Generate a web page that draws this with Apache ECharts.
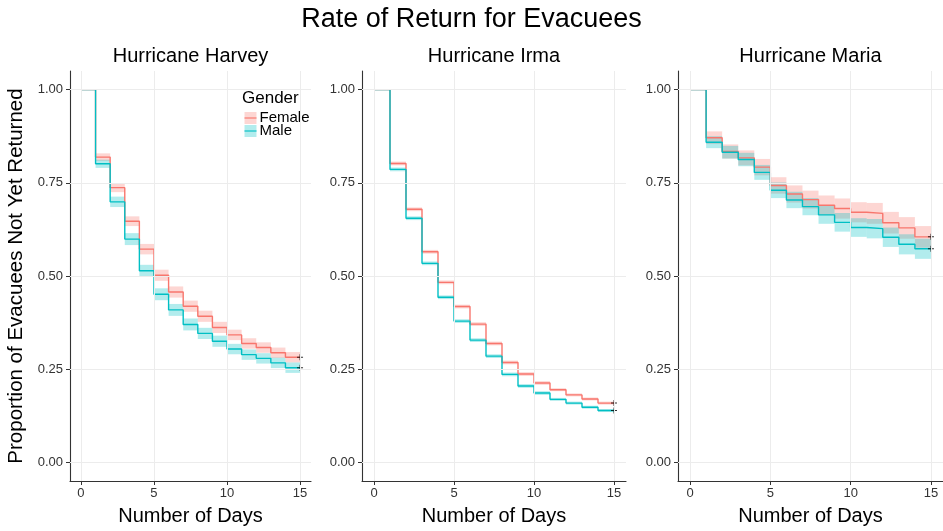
<!DOCTYPE html>
<html>
<head>
<meta charset="utf-8">
<script src="https://cdn.jsdelivr.net/npm/echarts@6/dist/echarts.min.js"></script>
<style>
  html, body { margin: 0; padding: 0; background: #fff; }
  #chart { width: 943px; height: 531px; }
</style>
</head>
<body>
<div id="chart"></div>
<script>
// step start days; each value holds until the next day, last one until endDay
const days = [0, 1, 2, 3, 4, 5, 6, 7, 8, 9, 10, 11, 12, 13, 14];
const endDay = 15;

const panelTitles = ['Hurricane Harvey', 'Hurricane Irma', 'Hurricane Maria'];
const genders = ['Female', 'Male'];
const xTicks = [0, 5, 10, 15];
const yTicks = [0, 0.25, 0.5, 0.75, 1];

const harveyFemale = [1, 0.819, 0.737, 0.647, 0.572, 0.502, 0.457, 0.419, 0.392, 0.362, 0.342, 0.319, 0.308, 0.294, 0.282];
const harveyMale = [1, 0.801, 0.699, 0.599, 0.514, 0.451, 0.409, 0.370, 0.346, 0.325, 0.304, 0.289, 0.279, 0.267, 0.254];
const harveyFemaleCI = [0, 0.010, 0.012, 0.013, 0.014, 0.015, 0.015, 0.015, 0.015, 0.015, 0.014, 0.014, 0.014, 0.014, 0.014];
const harveyMaleCI = [0, 0.011, 0.014, 0.016, 0.016, 0.016, 0.016, 0.016, 0.015, 0.015, 0.014, 0.014, 0.014, 0.014, 0.014];

const irmaFemale = [1, 0.802, 0.679, 0.565, 0.483, 0.418, 0.371, 0.319, 0.268, 0.237, 0.213, 0.195, 0.181, 0.170, 0.159];
const irmaMale = [1, 0.786, 0.655, 0.534, 0.443, 0.379, 0.328, 0.285, 0.236, 0.205, 0.186, 0.169, 0.159, 0.148, 0.139];
const irmaFemaleCI = [0, 0.005, 0.005, 0.005, 0.005, 0.005, 0.005, 0.005, 0.005, 0.005, 0.005, 0.004, 0.004, 0.004, 0.004];
const irmaMaleCI = [0, 0.005, 0.005, 0.005, 0.005, 0.005, 0.005, 0.005, 0.005, 0.005, 0.005, 0.004, 0.004, 0.004, 0.004];

const mariaFemale = [1, 0.871, 0.834, 0.817, 0.792, 0.743, 0.720, 0.705, 0.690, 0.681, 0.671, 0.668, 0.643, 0.629, 0.605];
const mariaMale = [1, 0.859, 0.832, 0.8125, 0.778, 0.730, 0.704, 0.686, 0.664, 0.644, 0.630, 0.627, 0.604, 0.585, 0.573];
const mariaFemaleCI = [0, 0.017, 0.019, 0.020, 0.022, 0.022, 0.023, 0.024, 0.026, 0.027, 0.027, 0.028, 0.029, 0.029, 0.029];
const mariaMaleCI = [0, 0.016, 0.017, 0.018, 0.020, 0.021, 0.022, 0.023, 0.024, 0.025, 0.025, 0.026, 0.026, 0.027, 0.027];

const panels = [
  { female: harveyFemale, male: harveyMale, femaleCI: harveyFemaleCI, maleCI: harveyMaleCI },
  { female: irmaFemale, male: irmaMale, femaleCI: irmaFemaleCI, maleCI: irmaMaleCI },
  { female: mariaFemale, male: mariaMale, femaleCI: mariaFemaleCI, maleCI: mariaMaleCI }
];

const lineColors = { Female: '#F8766D', Male: '#00BFC4' };
const fillColors = { Female: 'rgba(248,118,109,0.3)', Male: 'rgba(0,191,196,0.3)' };

const FONT = '"Liberation Sans", Arial, sans-serif';
const gridBoxes = [
  { left: 70, width: 241 },
  { left: 362, width: 264 },
  { left: 678, width: 265 }
];
const TOP = 71, HEIGHT = 411;

const chart = echarts.init(document.getElementById('chart'));

const grids = [], xAxes = [], yAxes = [], series = [], titles = [];

titles.push({
  text: 'Rate of Return for Evacuees',
  left: 'center', top: 1,
  textStyle: { fontFamily: FONT, fontSize: 27, fontWeight: 'normal', color: '#000' }
});

panels.forEach((p, k) => {
  const g = gridBoxes[k];
  grids.push({ left: g.left, width: g.width, top: TOP, height: HEIGHT, containLabel: false });
  titles.push({
    text: panelTitles[k],
    left: g.left + g.width / 2 - 5, top: 41, textAlign: 'center',
    textStyle: { fontFamily: FONT, fontSize: 20, fontWeight: 'normal', color: '#000' }
  });
  xAxes.push({
    gridIndex: k, type: 'value', min: -0.75, max: 15.75,
    name: 'Number of Days', nameLocation: 'middle', nameGap: 25,
    nameTextStyle: { fontFamily: FONT, fontSize: 20, color: '#000' },
    axisLine: { onZero: false, lineStyle: { color: '#333', width: 1.1 } },
    axisTick: { show: true, length: 4, customValues: xTicks, lineStyle: { color: '#333' } },
    axisLabel: { customValues: xTicks, margin: 6, fontFamily: FONT, fontSize: 13, color: '#333' },
    splitLine: { show: false }
  });
  yAxes.push({
    gridIndex: k, type: 'value', min: -0.05, max: 1.05,
    name: k === 0 ? 'Proportion of Evacuees Not Yet Returned' : '',
    nameLocation: 'middle', nameGap: 43, nameRotate: 90,
    nameTextStyle: { fontFamily: FONT, fontSize: 20.5, color: '#000' },
    axisLine: { show: true, onZero: false, lineStyle: { color: '#333', width: 1.1 } },
    axisTick: { show: true, length: 4, customValues: yTicks, lineStyle: { color: '#333' } },
    axisLabel: {
      customValues: yTicks, margin: 7, fontFamily: FONT, fontSize: 13, color: '#333',
      formatter: v => v.toFixed(2)
    },
    splitLine: { show: false }
  });

  // light grid lines at the major ticks
  series.push({
    type: 'line', xAxisIndex: k, yAxisIndex: k, data: [], silent: true,
    markLine: {
      silent: true, symbol: 'none', label: { show: false },
      lineStyle: { color: '#ececec', width: 1, type: 'solid' },
      data: xTicks.map(t => ({ xAxis: t })).concat(yTicks.map(t => ({ yAxis: t })))
    }
  });

  genders.forEach(gName => {
    const vals = gName === 'Female' ? p.female : p.male;
    const ci = gName === 'Female' ? p.femaleCI : p.maleCI;
    const bands = vals.map((v, i) => [days[i], i + 1 < days.length ? days[i + 1] : endDay, v - ci[i], v + ci[i]]);
    series.push({
      type: 'custom', name: gName + ' CI', xAxisIndex: k, yAxisIndex: k, silent: true,
      encode: { x: [0, 1], y: [2, 3] },
      data: bands,
      renderItem: (params, api) => {
        const a = api.coord([api.value(0), api.value(3)]);
        const b = api.coord([api.value(1), api.value(2)]);
        return {
          type: 'rect',
          shape: { x: a[0], y: a[1], width: b[0] - a[0], height: b[1] - a[1] },
          style: { fill: fillColors[gName] }
        };
      }
    });
  });

  genders.forEach(gName => {
    const vals = gName === 'Female' ? p.female : p.male;
    const pts = vals.map((v, i) => [days[i], v]);
    pts.push([endDay, vals[vals.length - 1]]);
    series.push({
      type: 'line', name: gName, xAxisIndex: k, yAxisIndex: k, step: 'end',
      data: pts, showSymbol: false, symbol: 'none', silent: true,
      lineStyle: { color: lineColors[gName], width: 1.4 }, z: 3
    });
    series.push({
      type: 'scatter', xAxisIndex: k, yAxisIndex: k, silent: true, z: 4,
      symbol: 'path://M4,0h1.6v4h4v1.6h-4v4h-1.6v-4h-4v-1.6h4z', symbolSize: 6,
      itemStyle: { color: '#000' },
      data: [[endDay, vals[vals.length - 1]]]
    });
  });
});

// legend for gender (key = band + line, as in the source)
const legendItems = genders.map((gName, i) => ({
  type: 'group', left: 242, top: 110 + i * 13,
  children: [
    { type: 'rect', shape: { x: 0, y: 0, width: 12, height: 12 }, style: { fill: fillColors[gName] } },
    { type: 'line', shape: { x1: 0, y1: 6, x2: 12, y2: 6 }, style: { stroke: lineColors[gName], lineWidth: 1.4, opacity: 0.8 } },
    { type: 'text', left: 15, top: -2, style: { text: gName, font: '15px ' + FONT, fill: '#000' } }
  ]
}));

chart.setOption({
  animation: false,
  backgroundColor: '#fff',
  title: titles,
  grid: grids,
  xAxis: xAxes,
  yAxis: yAxes,
  series: series,
  graphic: [
    { type: 'text', left: 242, top: 90, style: { text: 'Gender', font: '17px ' + FONT, fill: '#000' } }
  ].concat(legendItems)
});
</script>
</body>
</html>
